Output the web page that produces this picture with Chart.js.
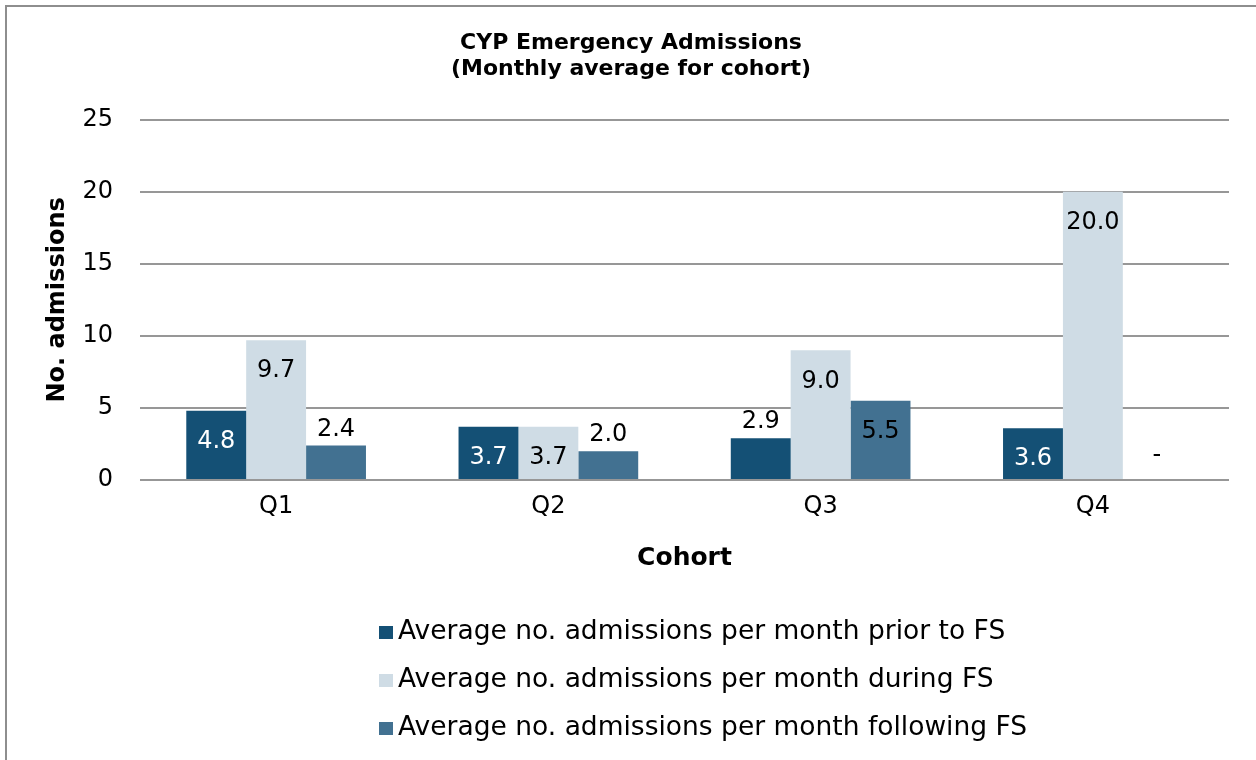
<!DOCTYPE html>
<html>
<head>
<meta charset="utf-8">
<script src="https://cdn.jsdelivr.net/npm/chart.js@4.4.1/dist/chart.umd.min.js"></script>
<style>
  html, body { margin: 0; padding: 0; background: #fff; overflow: hidden; }
  #wrap { position: relative; width: 1256px; height: 760px; }
  #frame { position: absolute; left: 5px; top: 5px; width: 1400px; height: 900px;
           border-left: 2px solid #8e8e8e; border-top: 2px solid #8e8e8e; pointer-events: none; }
</style>
</head>
<body>
<div id="wrap">
  <canvas id="chart" width="1256" height="760"></canvas>
  <div id="frame"></div>
</div>
<script>
const cohorts = ['Q1', 'Q2', 'Q3', 'Q4']
const priorToFS = [4.8, 3.7, 2.9, 3.6]
const duringFS = [9.7, 3.7, 9.0, 20.0]
const followingFS = [2.4, 2.0, 5.5, 0]
const seriesNames = [
  'Average no. admissions per month prior to FS',
  'Average no. admissions per month during FS',
  'Average no. admissions per month following FS'
]
const yTicks = [0, 5, 10, 15, 20, 25]

const FONT = "'DejaVu Sans', sans-serif"
const colors = ['#145075', '#cfdce5', '#427191']

// value labels: inside the bar top when there is room, otherwise above it
const valueLabels = {
  id: 'valueLabels',
  afterDatasetsDraw(chart) {
    const ctx = chart.ctx
    ctx.save()
    ctx.font = '24px ' + FONT
    ctx.textAlign = 'center'
    ctx.textBaseline = 'middle'
    chart.data.datasets.forEach((ds, i) => {
      chart.getDatasetMeta(i).data.forEach((bar, j) => {
        const v = ds.data[j]
        const h = bar.base - bar.y
        if (v === 0) {
          ctx.fillStyle = '#000'
          ctx.fillText('-', bar.x + 4, bar.y - 24)
        } else if (h >= 48) {
          ctx.fillStyle = i === 0 ? '#fff' : '#000'
          ctx.fillText(v.toFixed(1), bar.x, bar.y + 31)
        } else {
          ctx.fillStyle = '#000'
          ctx.fillText(v.toFixed(1), bar.x, bar.y - 16)
        }
      })
    })
    ctx.restore()
  }
}

// legend stacked one item per row, left aligned as a block
const stackedLegend = {
  id: 'stackedLegend',
  afterDraw(chart) {
    const ctx = chart.ctx
    ctx.save()
    ctx.font = '26.5px ' + FONT
    ctx.textBaseline = 'middle'
    chart.data.datasets.forEach((ds, i) => {
      const y = 632 + i * 48
      ctx.fillStyle = ds.backgroundColor
      ctx.fillRect(379, y - 6, 14, 13)
      ctx.fillStyle = '#000'
      ctx.fillText(ds.label, 398, y)
    })
    ctx.restore()
  }
}

new Chart(document.getElementById('chart'), {
  type: 'bar',
  data: {
    labels: cohorts,
    datasets: [
      { label: seriesNames[0], data: priorToFS, backgroundColor: colors[0] },
      { label: seriesNames[1], data: duringFS, backgroundColor: colors[1] },
      { label: seriesNames[2], data: followingFS, backgroundColor: colors[2] }
    ]
  },
  options: {
    responsive: false,
    animation: false,
    events: [],
    layout: { padding: { left: 33, right: 27, top: 0, bottom: 180 } },
    datasets: { bar: { categoryPercentage: 0.66, barPercentage: 1 } },
    plugins: {
      legend: { display: false },
      tooltip: { enabled: false },
      title: {
        display: true,
        text: ['CYP Emergency Admissions', '(Monthly average for cohort)'],
        color: '#000',
        font: { family: FONT, size: 22, weight: 'bold', lineHeight: 1.2 },
        padding: { top: 30, bottom: 37 }
      }
    },
    scales: {
      x: {
        grid: { display: false },
        border: { display: false },
        ticks: { color: '#000', font: { family: FONT, size: 24 }, padding: 4 },
        title: {
          display: true, text: 'Cohort', color: '#000',
          font: { family: FONT, size: 25, weight: 'bold' },
          padding: { top: 0, bottom: 7 }
        },
        afterFit(scale) { scale.height = 100 }
      },
      y: {
        min: 0,
        max: 25,
        afterBuildTicks(scale) { scale.ticks = yTicks.map(v => ({ value: v })) },
        grid: { color: '#979797', lineWidth: 2, drawTicks: false },
        border: { display: false },
        ticks: { color: '#000', font: { family: FONT, size: 24 }, padding: 27 },
        title: {
          display: true, text: 'No. admissions', color: '#000',
          font: { family: FONT, size: 24, weight: 'bold' },
          padding: { top: 10, bottom: 0 }
        },
        afterFit(scale) { scale.width = 107 }
      }
    }
  },
  plugins: [valueLabels, stackedLegend]
})
</script>
</body>
</html>
